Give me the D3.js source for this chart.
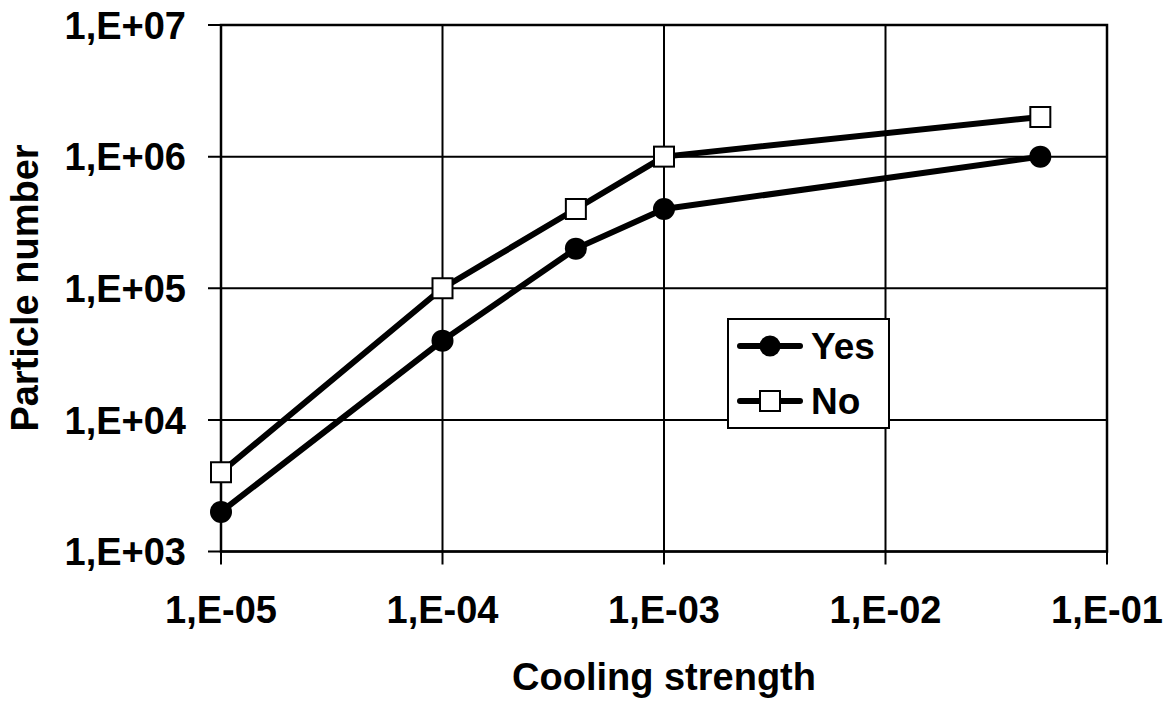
<!DOCTYPE html>
<html>
<head>
<meta charset="utf-8">
<script src="https://cdn.jsdelivr.net/npm/d3@7"></script>
<style>
  html, body { margin: 0; padding: 0; background: #fff; }
  svg { display: block; font-family: "Liberation Sans", Arial, sans-serif; font-weight: bold; }
</style>
</head>
<body>
<svg id="chart" width="1169" height="701"></svg>
<script>
// Cooling strength (x) and particle counts for the two cases
const coolingStrength = [1e-5, 1e-4, 4e-4, 1e-3, 5e-2];
const yesValues = [2e3, 4e4, 2e5, 4e5, 1e6];
const noValues  = [4e3, 1e5, 4e5, 1e6, 2e6];
const xTicks = [1e-5, 1e-4, 1e-3, 1e-2, 1e-1];
const xTickLabels = ["1,E-05", "1,E-04", "1,E-03", "1,E-02", "1,E-01"];
const yTicks = [1e3, 1e4, 1e5, 1e6, 1e7];
const yTickLabels = ["1,E+03", "1,E+04", "1,E+05", "1,E+06", "1,E+07"];
const seriesNames = ["Yes", "No"];

const svg = d3.select("#chart");
const plot = { left: 221, right: 1107, top: 25, bottom: 551.5 };

const x = d3.scaleLog().domain([1e-5, 1e-1]).range([plot.left, plot.right]);
const y = d3.scaleLog().domain([1e3, 1e7]).range([plot.bottom, plot.top]);

// Grid lines at each decade
const grid = svg.append("g").attr("stroke", "#000").attr("stroke-width", 2);
grid.selectAll("line.h").data(yTicks).join("line")
  .attr("x1", plot.left - 13).attr("x2", plot.right)
  .attr("y1", d => y(d)).attr("y2", d => y(d));
grid.selectAll("line.v").data(xTicks).join("line")
  .attr("y1", plot.top).attr("y2", plot.bottom + 13)
  .attr("x1", d => x(d)).attr("x2", d => x(d));

// Plot frame
svg.append("rect")
  .attr("x", plot.left).attr("y", plot.top)
  .attr("width", plot.right - plot.left).attr("height", plot.bottom - plot.top)
  .attr("fill", "none").attr("stroke", "#000").attr("stroke-width", 2.5);

// Tick labels
svg.append("g").selectAll("text").data(xTicks).join("text")
  .attr("x", d => x(d)).attr("y", 623)
  .attr("text-anchor", "middle").attr("font-size", 38)
  .text((d, i) => xTickLabels[i]);
svg.append("g").selectAll("text").data(yTicks).join("text")
  .attr("x", 186).attr("y", d => y(d)).attr("dy", "0.36em")
  .attr("text-anchor", "end").attr("font-size", 38)
  .text((d, i) => yTickLabels[i]);

// Axis titles
svg.append("text").attr("x", 664).attr("y", 690)
  .attr("text-anchor", "middle").attr("font-size", 38).text("Cooling strength");
svg.append("text").attr("transform", "translate(38,288) rotate(-90)")
  .attr("text-anchor", "middle").attr("font-size", 38).text("Particle number");

// Series lines
const line = d3.line().x(d => x(d[0])).y(d => y(d[1]));
const yesPts = coolingStrength.map((c, i) => [c, yesValues[i]]);
const noPts = coolingStrength.map((c, i) => [c, noValues[i]]);

svg.append("path").datum(yesPts).attr("d", line)
  .attr("fill", "none").attr("stroke", "#000").attr("stroke-width", 6).attr("stroke-linejoin", "round");
svg.append("path").datum(noPts).attr("d", line)
  .attr("fill", "none").attr("stroke", "#000").attr("stroke-width", 6).attr("stroke-linejoin", "round");

// Markers
svg.append("g").selectAll("circle").data(yesPts).join("circle")
  .attr("cx", d => x(d[0])).attr("cy", d => y(d[1])).attr("r", 11).attr("fill", "#000");
svg.append("g").selectAll("rect").data(noPts).join("rect")
  .attr("x", d => x(d[0]) - 10).attr("y", d => y(d[1]) - 10)
  .attr("width", 20).attr("height", 20)
  .attr("fill", "#fff").attr("stroke", "#000").attr("stroke-width", 2);

// Legend
const legend = svg.append("g");
legend.append("rect").attr("x", 728).attr("y", 319).attr("width", 161).attr("height", 109)
  .attr("fill", "#fff").attr("stroke", "#000").attr("stroke-width", 2);
const rows = [346, 401];
seriesNames.forEach((name, i) => {
  const ly = rows[i];
  legend.append("line").attr("x1", 740).attr("x2", 800).attr("y1", ly).attr("y2", ly)
    .attr("stroke", "#000").attr("stroke-width", 6).attr("stroke-linecap", "round");
  if (i === 0) {
    legend.append("circle").attr("cx", 770).attr("cy", ly).attr("r", 10.5).attr("fill", "#000");
  } else {
    legend.append("rect").attr("x", 760).attr("y", ly - 10).attr("width", 20).attr("height", 20)
      .attr("fill", "#fff").attr("stroke", "#000").attr("stroke-width", 2);
  }
  legend.append("text").attr("x", 811).attr("y", ly).attr("dy", "0.36em")
    .attr("font-size", 37).text(name);
});
</script>
</body>
</html>
